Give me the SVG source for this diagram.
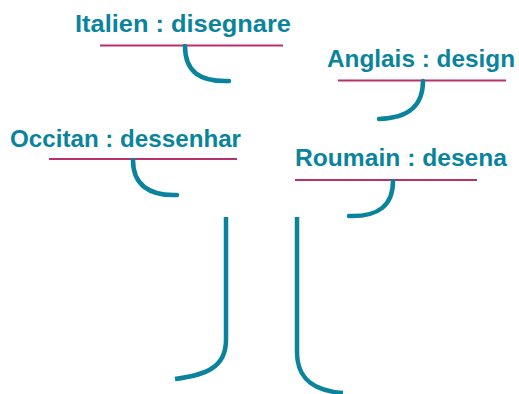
<svg xmlns="http://www.w3.org/2000/svg" width="519" height="394" viewBox="0 0 519 394">
<style>
.lbl{font-family:"Liberation Sans",Arial,sans-serif;font-weight:bold;font-size:24.5px;fill:#0a849c}
.ul{stroke:#b8306c;stroke-width:2.2;fill:none}
.br{stroke:#0a849c;stroke-width:4.5;fill:none;stroke-linecap:round}
.tr{stroke:#0a849c;stroke-width:4.5;fill:none;stroke-linecap:butt}
</style>
<rect width="519" height="394" fill="#fff"/>
<g id="italien">
<text class="lbl" x="75" y="32" textLength="216" lengthAdjust="spacingAndGlyphs">Italien : disegnare</text>
<line class="ul" x1="100" y1="45.5" x2="283" y2="45.5"/>
</g>
<g id="anglais">
<text class="lbl" x="327" y="67" textLength="188" lengthAdjust="spacingAndGlyphs">Anglais : design</text>
<line class="ul" x1="338" y1="80.5" x2="506" y2="80.5"/>
</g>
<g id="occitan">
<text class="lbl" x="10" y="147" textLength="231" lengthAdjust="spacingAndGlyphs">Occitan : dessenhar</text>
<line class="ul" x1="49" y1="159" x2="237" y2="159"/>
</g>
<g id="roumain">
<text class="lbl" x="295" y="166" textLength="212" lengthAdjust="spacingAndGlyphs">Roumain : desena</text>
<line class="ul" x1="295" y1="180" x2="477" y2="180"/>
</g>
<g id="connectors">
<path class="br" d="M185,46 C185,72 200,82 229,81"/>
<path class="br" d="M423,81 C423,106 409,118 379,119"/>
<path class="br" d="M133,160 C133,184 148,196 177,195"/>
<path class="br" d="M393,181 C393,205 379,217 349,216"/>
<path class="tr" d="M226,217 L226,340 C226,368 205,375 175,379"/>
<path class="tr" d="M297,217 L297,352 C297,380 315,391 343,393"/>
</g>
</svg>
